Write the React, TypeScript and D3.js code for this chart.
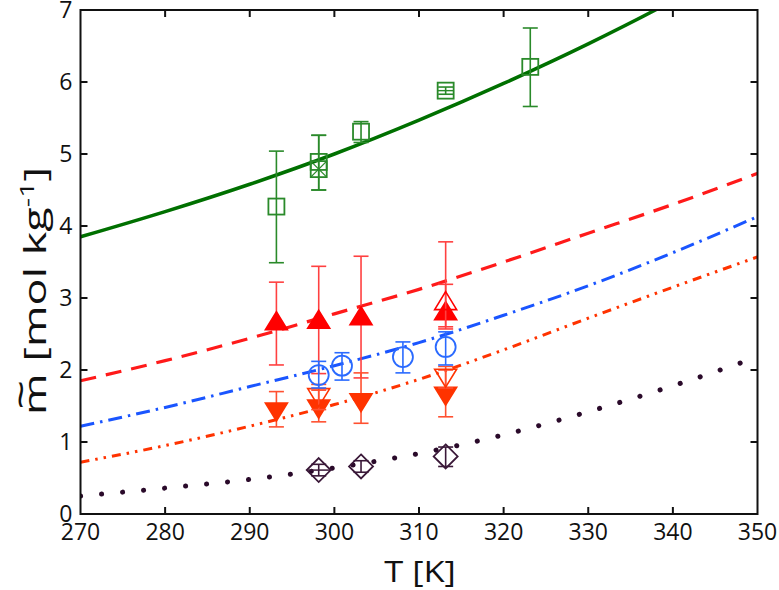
import React from 'react';
import * as d3 from 'd3';

// curve samples, T [K] -> m [mol/kg]
const curveT = [270, 280, 290, 300, 310, 320, 330, 340, 350];
const greenCurve = [3.85, 4.2, 4.58, 5.0, 5.47, 5.98, 6.53, 7.13, 7.8];
const redCurve = [1.85, 2.13, 2.44, 2.78, 3.12, 3.5, 3.9, 4.3, 4.73];
const blueCurve = [1.22, 1.48, 1.77, 2.06, 2.38, 2.76, 3.17, 3.63, 4.13];
const orangeCurve = [0.72, 0.95, 1.22, 1.52, 1.87, 2.28, 2.72, 3.15, 3.57];
const darkCurve = [0.25, 0.36, 0.48, 0.64, 0.84, 1.1, 1.42, 1.78, 2.18];

// measured points
const greenT = [293.15, 298.15, 298.15, 303.15, 313.15, 323.15];
const greenM = [4.27, 4.89, 4.79, 5.31, 5.88, 6.21];
const greenLo = [3.49, 4.5, 4.5, 5.16, 5.83, 5.66];
const greenHi = [5.04, 5.26, 5.26, 5.45, 5.93, 6.75];
const greenKind = ['sq', 'sq', 'sqx', 'sq', 'sqp', 'sq'];

const upT = [293.15, 298.15, 303.15, 313.15, 313.15];
const upM = [2.67, 2.69, 2.74, 2.81, 2.95];
const upLo = [2.07, 1.95, 1.89, 2.57, 2.6];
const upHi = [3.22, 3.44, 3.58, 3.19, 3.78];
const upFilled = [true, true, true, true, false];

const downT = [293.15, 298.15, 298.15, 303.15, 313.15, 313.15];
const downM = [1.43, 1.47, 1.63, 1.56, 1.65, 1.9];
const downLo = [1.21, 1.28, 1.45, 1.26, 1.35, 1.75];
const downHi = [1.7, 1.72, 1.8, 1.96, 2.05, 2.0];
const downFilled = [true, true, false, true, true, false];

const circT = [298.15, 300.9, 308.1, 313.15];
const circM = [1.93, 2.06, 2.18, 2.32];
const circLo = [1.75, 1.86, 1.96, 2.07];
const circHi = [2.12, 2.24, 2.39, 2.53];

const diaT = [298.15, 303.15, 313.15];
const diaM = [0.61, 0.66, 0.8];
const diaLo = [0.53, 0.58, 0.66];
const diaHi = [0.69, 0.74, 0.93];
const diaKind = ['plus', 'plain', 'plain'];

const xTicks = [270, 280, 290, 300, 310, 320, 330, 340, 350];
const yTicks = [0, 1, 2, 3, 4, 5, 6, 7];

const W = 779;
const H = 590;
const M = { left: 80.5, right: 21.5, top: 10, bottom: 76 };

const x = d3.scaleLinear().domain([270, 350]).range([M.left, W - M.right]);
const y = d3.scaleLinear().domain([0, 7]).range([H - M.bottom, M.top]);

const line = d3
  .line<number>()
  .x((_, i) => x(curveT[i]))
  .y((d) => y(d))
  .curve(d3.curveMonotoneX);

const font = "'Open Sans', 'DejaVu Sans', sans-serif";

function ErrBar({ t, lo, hi, color }: { t: number; lo: number; hi: number; color: string }) {
  const cx = x(t);
  return (
    <g stroke={color} strokeWidth={1.6}>
      <line x1={cx} x2={cx} y1={y(lo)} y2={y(hi)} />
      <line x1={cx - 7.5} x2={cx + 7.5} y1={y(lo)} y2={y(lo)} />
      <line x1={cx - 7.5} x2={cx + 7.5} y1={y(hi)} y2={y(hi)} />
    </g>
  );
}

const tri = (cx: number, cy: number, up: boolean) => {
  const w = 11, h = 10;
  return up
    ? `M${cx},${cy - h} L${cx + w},${cy + h * 0.8} L${cx - w},${cy + h * 0.8} Z`
    : `M${cx},${cy + h} L${cx + w},${cy - h * 0.8} L${cx - w},${cy - h * 0.8} Z`;
};

export default function App() {
  const iw = W - M.left - M.right;
  const ih = H - M.top - M.bottom;
  return (
    <svg width={W} height={H} style={{ position: 'absolute', left: 0, top: 0, background: '#fff' }}>
      <defs>
        <clipPath id="plot">
          <rect x={M.left} y={M.top} width={iw} height={ih} />
        </clipPath>
      </defs>

      <g clipPath="url(#plot)" fill="none">
        <path d={line(greenCurve)!} stroke="#007000" strokeWidth={3.5} />
        <path d={line(redCurve)!} stroke="#ff1a1a" strokeWidth={3.2} strokeDasharray="16 10" />
        <path d={line(blueCurve)!} stroke="#1a55ff" strokeWidth={3} strokeDasharray="14 6 2.5 6" />
        <path d={line(orangeCurve)!} stroke="#ff3300" strokeWidth={3} strokeDasharray="9 6 2.5 6 2.5 6" />
        <path d={line(darkCurve)!} stroke="#2a0a2a" strokeWidth={5} strokeLinecap="round" strokeDasharray="0.1 21" />
      </g>

      {/* green squares */}
      {greenT.map((t, i) => {
        const cx = x(t), cy = y(greenM[i]), s = 8;
        const c = '#2a8a2a';
        return (
          <g key={'g' + i} fill="none" stroke={c}>
            <ErrBar t={t} lo={greenLo[i]} hi={greenHi[i]} color={c} />
            <rect x={cx - s} y={cy - s} width={2 * s} height={2 * s} strokeWidth={1.8} />
            {greenKind[i] === 'sqx' && (
              <g strokeWidth={1.4}>
                <line x1={cx - s} y1={cy - s} x2={cx + s} y2={cy + s} />
                <line x1={cx - s} y1={cy + s} x2={cx + s} y2={cy - s} />
              </g>
            )}
            {greenKind[i] === 'sqp' && <line x1={cx - s} y1={cy} x2={cx + s} y2={cy} strokeWidth={1.4} />}
          </g>
        );
      })}

      {/* red up triangles */}
      {upT.map((t, i) => (
        <g key={'u' + i}>
          <ErrBar t={t} lo={upLo[i]} hi={upHi[i]} color="#ff4040" />
          <path
            d={tri(x(t), y(upM[i]), true)}
            fill={upFilled[i] ? '#ff0000' : 'none'}
            stroke="#ff0000"
            strokeWidth={1.6}
          />
        </g>
      ))}

      {/* orange down triangles */}
      {downT.map((t, i) => (
        <g key={'d' + i}>
          <ErrBar t={t} lo={downLo[i]} hi={downHi[i]} color="#ff5030" />
          <path
            d={tri(x(t), y(downM[i]), false)}
            fill={downFilled[i] ? '#ff3300' : 'none'}
            stroke="#ff3300"
            strokeWidth={1.6}
          />
        </g>
      ))}

      {/* blue circles */}
      {circT.map((t, i) => (
        <g key={'c' + i}>
          <ErrBar t={t} lo={circLo[i]} hi={circHi[i]} color="#2a6aff" />
          <circle cx={x(t)} cy={y(circM[i])} r={10} fill="none" stroke="#2a6aff" strokeWidth={1.8} />
        </g>
      ))}

      {/* diamonds */}
      {diaT.map((t, i) => {
        const cx = x(t), cy = y(diaM[i]), r = 12;
        return (
          <g key={'m' + i} stroke="#3a1838" fill="none">
            <ErrBar t={t} lo={diaLo[i]} hi={diaHi[i]} color="#3a1838" />
            <path
              d={`M${cx},${cy - r} L${cx + r},${cy} L${cx},${cy + r} L${cx - r},${cy} Z`}
              strokeWidth={1.8}
            />
            {diaKind[i] === 'plus' && <line x1={cx - r} y1={cy} x2={cx + r} y2={cy} strokeWidth={1.5} />}
          </g>
        );
      })}

      {/* frame and ticks */}
      <rect x={M.left} y={M.top} width={iw} height={ih} fill="none" stroke="#111" strokeWidth={2} />
      <g stroke="#111" strokeWidth={2}>
        {xTicks.slice(1, -1).map((t) => (
          <g key={'xt' + t}>
            <line x1={x(t)} x2={x(t)} y1={y(0)} y2={y(0) - 7} />
            <line x1={x(t)} x2={x(t)} y1={M.top} y2={M.top + 7} />
          </g>
        ))}
        {yTicks.slice(1, -1).map((v) => (
          <g key={'yt' + v}>
            <line x1={M.left} x2={M.left + 7} y1={y(v)} y2={y(v)} />
            <line x1={W - M.right} x2={W - M.right - 7} y1={y(v)} y2={y(v)} />
          </g>
        ))}
      </g>

      <g fontFamily={font} fontSize={23} fill="#111">
        {xTicks.map((t) => (
          <text key={'xl' + t} x={x(t)} y={y(0) + 26} textAnchor="middle">
            {t}
          </text>
        ))}
        {yTicks.map((v) => (
          <text key={'yl' + v} x={M.left - 8} y={y(v) + 8} textAnchor="end">
            {v}
          </text>
        ))}
      </g>

      <text
        transform="translate(420,582) scale(1.15,1)"
        textAnchor="middle"
        fontFamily={font}
        fontSize={30}
        fill="#111"
      >
        T [K]
      </text>

      <g transform="translate(46,415) rotate(-90) scale(1.45,1)" fontFamily={font} fontSize={31} fill="#111">
        <text x={0} y={0}>
          m [mol kg<tspan dy={-12} fontSize={20}>-1</tspan>
          <tspan dy={12}>]</tspan>
        </text>
        <text x={14} y={-12} textAnchor="middle" fontSize={36}>
          ~
        </text>
      </g>
    </svg>
  );
}
